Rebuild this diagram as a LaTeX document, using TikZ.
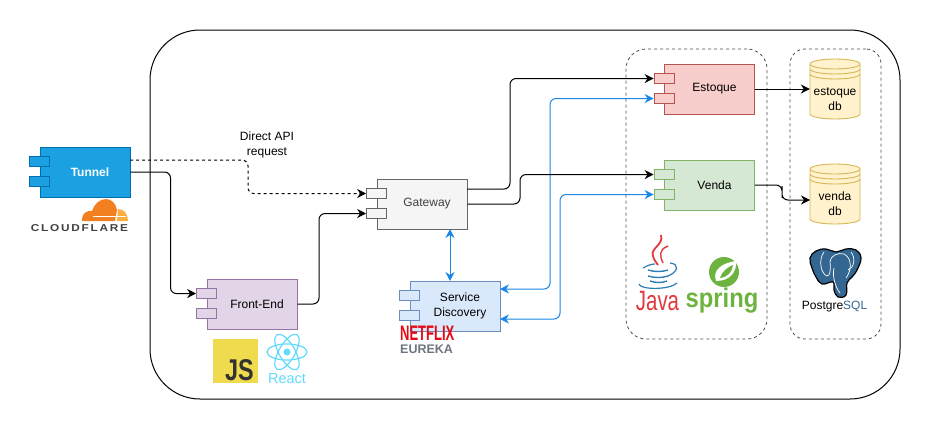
\documentclass[tikz,border=0pt]{standalone}
\usepackage{fontspec}
\setmainfont{Liberation Sans}
\newfontfamily\spacedfont[LetterSpace=15]{Liberation Sans}
\usetikzlibrary{arrows.meta, calc}
\definecolor{tunnelfill}{HTML}{1BA1E2}
\definecolor{tunneldraw}{HTML}{006EAF}
\definecolor{frontfill}{HTML}{E1D5E7}
\definecolor{frontdraw}{HTML}{9673A6}
\definecolor{gatefill}{HTML}{F5F5F5}
\definecolor{gatedraw}{HTML}{666666}
\definecolor{discfill}{HTML}{DAE8FC}
\definecolor{discdraw}{HTML}{6C8EBF}
\definecolor{estfill}{HTML}{F8CECC}
\definecolor{estdraw}{HTML}{B85450}
\definecolor{venfill}{HTML}{D5E8D4}
\definecolor{vendraw}{HTML}{82B366}
\definecolor{dbfill}{HTML}{FFF2CC}
\definecolor{dbdraw}{HTML}{D6B656}
\definecolor{linkblue}{HTML}{1A86E8}
\definecolor{cforange}{HTML}{F38020}
\definecolor{cflight}{HTML}{FAAE40}
\definecolor{cfgray}{HTML}{404041}
\definecolor{jsyellow}{HTML}{F0DB4F}
\definecolor{jsdark}{HTML}{323330}
\definecolor{reactblue}{HTML}{61DAFB}
\definecolor{netflixred}{HTML}{E50914}
\definecolor{eurekagray}{HTML}{6D7580}
\definecolor{javared}{HTML}{E03A3E}
\definecolor{javablue}{HTML}{2E7DB5}
\definecolor{springgreen}{HTML}{6DB33F}
\definecolor{pgblue}{HTML}{336791}
\tikzset{
    comp/.style={minimum width=90pt, minimum height=50pt, inner sep=0pt, line width=.9pt},
    stub/.style={minimum width=20pt, minimum height=10pt, inner sep=0pt, line width=.9pt},
    tunnelstyle/.style={draw=tunneldraw, fill=tunnelfill, text=white, font=\fontsize{12}{15}\selectfont\bfseries},
    frontstyle/.style={draw=frontdraw, fill=frontfill},
    gatestyle/.style={draw=gatedraw, fill=gatefill, text=black!75},
    discstyle/.style={draw=discdraw, fill=discfill},
    eststyle/.style={draw=estdraw, fill=estfill},
    venstyle/.style={draw=vendraw, fill=venfill},
    label text/.style={font=\fontsize{12}{15}\selectfont, align=center, inner sep=0pt},
    outer box/.style={draw, line width=1pt, rounded corners=50pt, minimum width=750pt, minimum height=369pt, inner sep=0pt},
    group box/.style={draw=black!70, line width=.8pt, dash pattern=on 3pt off 3pt, minimum height=290pt, inner sep=0pt},
    conn/.style={-{Stealth[length=9pt,width=9pt]}, rounded corners=6pt, line width=1pt},
    bluelink/.style={conn, color=linkblue},
    bothends/.style={{Stealth[length=9pt,width=9pt]}-{Stealth[length=9pt,width=9pt]}},
    dashlink/.style={conn, dash pattern=on 3pt off 3pt},
    dbshape/.style={draw=dbdraw, fill=dbfill, line width=.9pt},
}
\newcommand{\compnode}[5]{
    \node[comp, #4] (#1) at (#2,#3) {};
    \node[stub, #4] (#1a) at ($(#1.north west)+(0,15)$) {};
    \node[stub, #4] (#1b) at ($(#1.north west)+(0,35)$) {};
    \node[label text, #4, draw=none, fill=none] (#1text) at ($(#1)+(5,0)$) {#5};
}
\newcommand{\dbnode}[4]{
    \draw[dbshape] (#2-25,#3-25) arc[x radius=25, y radius=5, start angle=180, end angle=360] -- (#2+25,#3+25)
        arc[x radius=25, y radius=5, start angle=0, end angle=180] -- cycle;
    \draw[dbshape, fill=none] (#2-25,#3-25) arc[x radius=25, y radius=5, start angle=180, end angle=0];
    \draw[dbshape, fill=none] (#2-25,#3-20) arc[x radius=25, y radius=5, start angle=180, end angle=0];
    \draw[dbshape, fill=none] (#2-25,#3-15) arc[x radius=25, y radius=5, start angle=180, end angle=0];
    \node[minimum width=50pt, minimum height=60pt, inner sep=0pt] (#1) at (#2,#3) {};
    \node[label text] (#1text) at (#2,#3+10) {#4\\db};
}
\begin{document}
\begin{tikzpicture}[x=1pt, y=-1pt]
    \useasboundingbox (0,0) rectangle (931,431);
    \node[outer box] (system) at (525,214.5) {};
    \node[group box, minimum width=141pt, rounded corners=20pt] (services) at (696.5,194) {};
    \node[group box, minimum width=91pt, rounded corners=15pt] (databases) at (835.5,194) {};

    \compnode{tunnel}{85}{172}{tunnelstyle}{Tunnel}
    \compnode{front}{252}{304}{frontstyle}{Front-End}
    \compnode{gateway}{422}{204}{gatestyle}{Gateway}
    \compnode{disc}{455}{306}{discstyle}{Service\\Discovery}
    \compnode{estoque}{709.5}{89}{eststyle}{Estoque}
    \compnode{venda}{709.5}{185}{venstyle}{Venda}
    \dbnode{estoquedb}{835}{89}{estoque}
    \dbnode{vendadb}{835}{194}{venda}

    \coordinate (tunneltop) at (130,160);
    \coordinate (gatetop) at (467,189);
    \coordinate (gatelink) at (450,229);
    \coordinate (disclink) at (450,281);
    \coordinate (disctop) at (500,289);
    \coordinate (discbot) at (500,319);
    \coordinate (vendadbin) at (810,200);
    \node[label text] (direct) at (267,145) {Direct API\\request};

    \draw[bluelink, bothends] (gatelink) -- (disclink);
    \draw[bluelink, bothends] (disctop) -| (550,190) |- (estoqueb.west);
    \draw[bluelink, bothends] (discbot) -| (560,250) |- (vendab.west);
    \draw[dashlink] (tunneltop) -| (248,180) |- (gatewaya.west);
    \draw[conn] (tunnel.east) -| (170.5,230) |- (fronta.west);
    \draw[conn] (front.east) -| (319,260) |- (gatewayb.west);
    \draw[conn] (gatetop) -| (510,130) |- (estoquea.west);
    \draw[conn] (gateway.east) -| (520,190) |- (vendaa.west);
    \draw[conn] (estoque.east) -- (estoquedb.west);
    \draw[conn] (venda.east) -| (782,192) |- (vendadbin);

    % cloudflare
    \fill[cforange] (82,221) -- (82,219) .. controls (82,213) and (88,210) .. (92,211) .. controls (94,204) and (100,199) .. (106,199) .. controls (112,199) and (116,204) .. (117,210) -- (115,221) -- cycle;
    \fill[cflight] (117,221) -- (128,221) .. controls (128,214) and (124,209) .. (118,209) -- cycle;
    \draw[white, line width=.7pt] (93,216.5) -- (126,216.5);
    \node[anchor=base, inner sep=0pt, font=\fontsize{10}{12}\spacedfont\bfseries, text=cfgray, transform shape, xscale=1.18] (cloudflare) at (79.5,231) {CLOUDFLARE};

    % js and react
    \node[fill=jsyellow, minimum size=44.5pt, inner sep=0pt] (jsbox) at (235.5,361) {};
    \node[anchor=base east, inner sep=0pt, font=\fontsize{30}{30}\selectfont\bfseries, text=jsdark, transform shape, xscale=.78] (jstext) at (254,380) {JS};
    \foreach \a in {0,60,120}
        \draw[reactblue, line width=1.2pt, rotate around={\a:(287,352)}] (287,352) ellipse[x radius=20, y radius=8];
    \fill[reactblue] (287,352) circle[radius=3.5];
    \node[anchor=base, inner sep=0pt, font=\fontsize{14.5}{16}\selectfont, text=reactblue] (react) at (287,383) {React};

    % eureka
    \node[anchor=base west, inner sep=0pt, font=\fontsize{21}{21}\selectfont\bfseries, text=netflixred, transform shape, xscale=.62] (netflix) at (400,340) {NETFLIX};
    \node[anchor=base west, inner sep=0pt, font=\fontsize{12.5}{14}\selectfont\bfseries, text=eurekagray] (eureka) at (400,353) {EUREKA};

    % java
    \draw[javared, line width=1.8pt] (661,235) .. controls (664,245) and (650,248) .. (653,256) .. controls (654,260) and (656,262) .. (658,265);
    \draw[javared, line width=1.4pt] (668,246) .. controls (658,250) and (660,256) .. (663,263);
    \draw[javablue, line width=1.2pt] (643,268) .. controls (648,265) and (652,264) .. (655,264);
    \draw[javablue, line width=1.2pt] (670,263) .. controls (680,264) and (678,272) .. (668,276);
    \draw[javablue, line width=1.4pt] (648,270) .. controls (654,272) and (662,272) .. (668,270);
    \draw[javablue, line width=1.4pt] (648,276) .. controls (654,278) and (662,278) .. (668,276);
    \draw[javablue, line width=1.4pt] (650,281) .. controls (656,283) and (662,283) .. (667,281);
    \draw[javablue, line width=1.2pt] (639,284) .. controls (640,290) and (670,290) .. (677,283);
    \node[anchor=base, inner sep=0pt, font=\fontsize{28}{28}\selectfont, text=javared, transform shape, xscale=.73] (java) at (657.5,310) {Java};

    % spring
    \fill[springgreen] (724,272) circle[radius=15];
    \fill[white] (736,261) .. controls (737,272) and (730,281) .. (716,281) .. controls (712,270) and (722,263) .. (736,261) -- cycle;
    \fill[springgreen] (733,265) .. controls (732,272) and (728,277) .. (720,278) .. controls (722,272) and (726,268) .. (733,265) -- cycle;
    \node[anchor=base, inner sep=0pt, font=\fontsize{27}{27}\selectfont\bfseries, text=springgreen, transform shape, xscale=.88] (spring) at (722,307) {spring};

    % postgres
    \draw[black, fill=pgblue, line width=1.2pt] plot[smooth cycle, tension=.7] coordinates {(810,258) (816,251) (826,249) (836,252) (846,249) (856,250) (861,258) (857,270) (852,277) (847,283) (846,295) (838,297) (834,290) (833,282) (822,284) (816,277) (812,268)};
    \draw[white, line width=.7pt] (824,252) .. controls (818,260) and (821,274) .. (827,276) .. controls (830,276) and (831,270) .. (830,262) .. controls (830,256) and (838,252) .. (844,254) .. controls (852,258) and (852,270) .. (846,278);
    \draw[white, line width=.7pt] (834,268) .. controls (832,278) and (836,288) .. (840,293);
    \draw[white, line width=.7pt] (851,252) .. controls (856,258) and (854,268) .. (848,270);
    \node[anchor=base, inner sep=0pt, font=\fontsize{12}{14}\selectfont] (postgres) at (834.5,309) {Postgre\textcolor{pgblue}{SQL}};
\end{tikzpicture}
\end{document}
